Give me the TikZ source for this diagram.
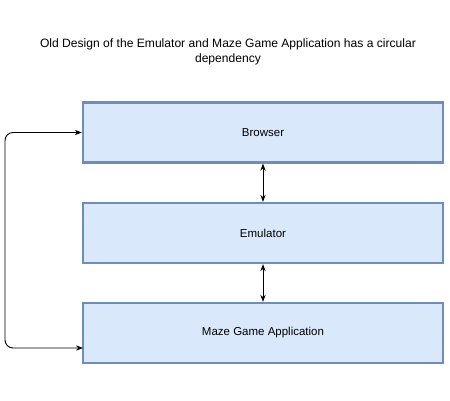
\documentclass[tikz,border=0pt]{standalone}
\usepackage{fontspec}
\setmainfont{Liberation Sans}
\usetikzlibrary{arrows.meta}

\definecolor{boxline}{HTML}{6C8EBF}
\definecolor{boxfill}{HTML}{DAE8FC}

\begin{document}
\begin{tikzpicture}[x=1pt, y=-1pt, every node/.style={font=\fontsize{11.5}{14}\selectfont}, every path/.style={line width=0.9pt}]

            \useasboundingbox (0,0) rectangle (450,400);

            \tikzset{layer/.style={draw=boxline, fill=boxfill, line width=2.3pt, minimum width=360pt, minimum height=60pt, inner sep=0pt}}

            % Title
            \node[align=center, font=\fontsize{12.1}{15}\selectfont] at (228,52) (T) {Old Design of the Emulator and Maze Game Application has a circular\\dependency};

            % Nodes
            \node[layer] at (263,132.5) (B) {Browser};
            \node[layer] at (263,233) (E) {Emulator};
            \node[layer] at (263,333) (M) {Maze Game Application};

            \coordinate (L) at (5,0);
            \coordinate (Min) at (83,348);

            % Lines
            \draw[Stealth-Stealth] (B) -- (E);
            \draw[Stealth-Stealth] (E) -- (M);
            \draw[Stealth-Stealth, rounded corners=8pt] (B.west) -- (B.west -| L) -- (Min -| L) -- (Min);

        \end{tikzpicture}
\end{document}
